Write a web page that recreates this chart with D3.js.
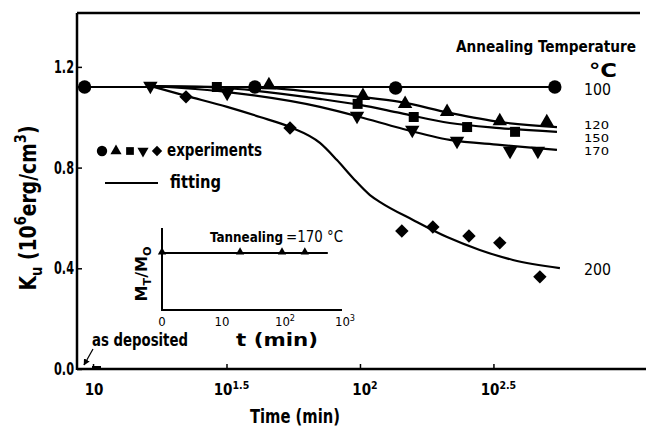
<!DOCTYPE html>
<html><head><meta charset="utf-8">
<script src="https://cdn.jsdelivr.net/npm/d3@7"></script>
<style>body{margin:0;background:#fff} svg{display:block}</style>
</head><body><svg id="c" width="646" height="429"></svg>
<script>
// ---------------- data ----------------
const temperatures = ["100", "120", "150", "170", "200"];
// experiments: [time (min), Ku (10^6 erg/cm^3)]
const exp100 = [[9.3, 1.12], [40.4, 1.12], [136, 1.116], [537, 1.12]];
const exp120 = [[45.6, 1.128], [102.6, 1.085], [147.6, 1.053], [212, 1.021], [334, 0.985], [501, 0.981]];
const exp150 = [[29.1, 1.12], [98, 1.053], [159, 1.001], [252, 0.961], [381, 0.942]];
const exp170 = [[16.4, 1.124], [31.8, 1.097], [97.5, 1.005], [157, 0.950], [231, 0.906], [365, 0.866], [464, 0.866]];
const exp200 = [[22.3, 1.081], [54.7, 0.957], [143.5, 0.548], [187.5, 0.564], [256, 0.528], [334, 0.501], [472, 0.366]];
// fitting curves
const fit100 = [[8.71, 1.12], [547, 1.12]];
const fit120 = [[16.4, 1.124], [46, 1.116], [70.8, 1.097], [100, 1.081], [141, 1.061], [217, 1.017], [334, 0.981], [547, 0.961]];
const fit150 = [[16.4, 1.124], [29.1, 1.118], [70.8, 1.073], [100, 1.049], [141, 1.017], [217, 0.977], [334, 0.957], [547, 0.942]];
const fit170 = [[16.4, 1.124], [31.8, 1.100], [70.8, 1.041], [100, 1.001], [141, 0.957], [217, 0.910], [334, 0.890], [547, 0.870]];
const fit200 = [[16.4, 1.124], [22.3, 1.085], [31.8, 1.041], [42.2, 1.001], [54.7, 0.961], [70.8, 0.898], [82, 0.830],
                [94.1, 0.759], [109, 0.691], [119, 0.663], [158, 0.592], [212, 0.524], [281, 0.473], [374, 0.433], [561, 0.401]];
// axes
const xTicks = [10, Math.pow(10, 1.5), 100, Math.pow(10, 2.5)];
const xTickExp = ["", "1.5", "2", "2.5"];
const yTicks = [0, 0.4, 0.8, 1.2];
const yTickLabels = ["0.0", "0.4", "0.8", "1.2"];
// inset: MT/M0 vs t at T=170 C
const insetPoints = [[1, 1], [20, 1], [100, 1], [240, 1]];
const insetLine = [[1, 1], [580, 1]];
const insetTicks = [1, 10, 100, 1000];
const insetTickExp = ["", "", "2", "3"];
const insetTickBase = ["0", "10", "10", "10"];

// ---------------- drawing ----------------
const FONT = '"Liberation Sans Narrow","DejaVu Sans Condensed","Roboto Condensed","Liberation Sans",Arial,sans-serif';
const svg = d3.select("#c").style("font-family", FONT);

const x = d3.scaleLog().domain([Math.pow(10, 0.94), Math.pow(10, 3.049)]).range([77, 640]);
const y = d3.scaleLinear().domain([0, 1.414]).range([369, 13]);

function rich(g, px, py, parts, o) {
  o = o || {};
  const base = o.size || 16;
  const t = g.append("text").attr("x", px).attr("y", py)
    .attr("font-size", base).attr("font-weight", o.weight || "bold")
    .attr("text-anchor", o.anchor || "start").attr("fill", "#000");
  if (o.transform) t.attr("transform", o.transform);
  if (o.len) t.attr("textLength", o.len).attr("lengthAdjust", "spacingAndGlyphs");
  let pending = 0;
  parts.forEach(p => {
    const s = t.append("tspan").text(p[0]);
    let shift = 0;
    if (p[1] === "sup") { s.attr("font-size", base * 0.7); shift = -base * 0.42; }
    else if (p[1] === "sub") { s.attr("font-size", base * 0.7); shift = base * 0.25; }
    const dy = pending + shift;
    if (dy !== 0) s.attr("dy", dy);
    pending = -shift;
    if (p[2]) s.attr("font-weight", p[2]);
  });
  return t;
}

// axes
const gx = svg.append("g").attr("transform", "translate(0,369)")
  .call(d3.axisBottom(x).tickValues(xTicks).tickSizeInner(-5).tickSizeOuter(0).tickFormat(""));
gx.select(".domain").remove();
gx.selectAll("line").attr("stroke", "#000").attr("stroke-width", 1.5);
const gy = svg.append("g").attr("transform", "translate(77,0)")
  .call(d3.axisLeft(y).tickValues(yTicks).tickSizeInner(-5).tickSizeOuter(0).tickFormat(""));
gy.select(".domain").remove();
gy.selectAll("line").attr("stroke", "#000").attr("stroke-width", 1.5);

svg.append("line").attr("x1", x.range()[0]).attr("x2", 646).attr("y1", y(0)).attr("y2", y(0))
  .attr("stroke", "#000").attr("stroke-width", 2.5);
svg.append("line").attr("x1", x.range()[0]).attr("x2", x.range()[0]).attr("y1", y(0) + 1).attr("y2", y.range()[1])
  .attr("stroke", "#000").attr("stroke-width", 2.5);
svg.append("line").attr("x1", x.range()[0]).attr("x2", x.range()[1]).attr("y1", y.range()[1]).attr("y2", y.range()[1])
  .attr("stroke", "#000").attr("stroke-width", 2.5);

xTicks.forEach((t, i) => {
  const parts = xTickExp[i] ? [["10", ""], [xTickExp[i], "sup"]] : [["10", ""]];
  rich(svg, x(t) + (xTickExp[i] ? 5 : 1), 395, parts, { size: 15, anchor: "middle", weight: "bold" });
});
yTicks.forEach((v, i) => {
  rich(svg, 74, y(v) + 6, [[yTickLabels[i], ""]], { size: 17, anchor: "end", weight: "bold", len: 20 });
});

// axis titles
rich(svg, 295, 423, [["Time  (min)", ""]], { size: 20, anchor: "middle", len: 90 });
rich(svg, 0, 0, [["K", ""], ["u", "sub"], [" (10", ""], ["6", "sup"], ["erg/cm", ""], ["3", "sup"], [")", ""]],
  { size: 23, anchor: "middle", transform: "translate(36,208) rotate(-90)", weight: "bold", len: 165 });

// fit curves
const line = d3.line().x(d => x(d[0])).y(d => y(d[1])).curve(d3.curveMonotoneX);
[fit100, fit120, fit150, fit170, fit200].forEach(f => {
  svg.append("path").attr("d", line(f)).attr("fill", "none").attr("stroke", "#000").attr("stroke-width", 2.2);
});

// markers
const shapes = [d3.symbolCircle, d3.symbolTriangle, d3.symbolSquare, d3.symbolTriangle, d3.symbolSquare];
const sizes = [140, 90, 100, 90, 90];
const rots = [0, 0, 0, 180, 45];
[exp100, exp120, exp150, exp170, exp200].forEach((s, k) => {
  svg.append("g").selectAll("path").data(s).join("path")
    .attr("d", d3.symbol().type(shapes[k]).size(sizes[k]))
    .attr("transform", d => `translate(${x(d[0])},${y(d[1])}) rotate(${rots[k]})`)
    .attr("fill", "#000");
});

// legend
const legX = [102, 116, 130, 143, 157];
legX.forEach((lx, k) => {
  svg.append("path").attr("d", d3.symbol().type(shapes[k]).size(sizes[k] * 0.6))
    .attr("transform", `translate(${lx},151) rotate(${rots[k]})`).attr("fill", "#000");
});
rich(svg, 167, 156, [["experiments", ""]], { size: 18, len: 95 });
svg.append("line").attr("x1", 105).attr("x2", 158).attr("y1", 183).attr("y2", 183).attr("stroke", "#000").attr("stroke-width", 2);
rich(svg, 170, 188, [["fitting", ""]], { size: 18, len: 51 });

// annotations
rich(svg, 456, 52, [["Annealing  Temperature", ""]], { size: 16, anchor: "start", len: 180 });
rich(svg, 603, 77, [["\u00b0C", ""]], { size: 20, anchor: "middle", len: 28 });
const labY = [95, 129, 142, 155, 275];
temperatures.forEach((tp, i) => {
  const mid = i >= 1 && i <= 3;
  rich(svg, 584, labY[i], [[tp, ""]], { size: mid ? 11 : 16, weight: "normal", len: mid ? 25 : 27 });
});

// as deposited
rich(svg, 92, 346, [["as deposited", ""]], { size: 18, len: 96 });
svg.append("defs").append("marker").attr("id", "ah").attr("viewBox", "0 0 10 10").attr("refX", 9).attr("refY", 5)
  .attr("markerWidth", 5).attr("markerHeight", 5).attr("orient", "auto")
  .append("path").attr("d", "M0,0L10,5L0,10z").attr("fill", "#000");
svg.append("line").attr("x1", 93).attr("y1", 349).attr("x2", 84).attr("y2", 365)
  .attr("stroke", "#000").attr("stroke-width", 1.3).attr("marker-end", "url(#ah)");
svg.append("line").attr("x1", 92).attr("x2", 101).attr("y1", 367).attr("y2", 367).attr("stroke", "#000").attr("stroke-width", 2);

// inset
const ix = d3.scaleLog().domain([1, 1000]).range([162, 342]);
const iy = d3.scaleLinear().domain([0, 1.44]).range([310, 228]);
const gi = svg.append("g");
gi.append("line").attr("x1", ix(1)).attr("x2", ix(1)).attr("y1", iy(0)).attr("y2", iy(1.44)).attr("stroke", "#000").attr("stroke-width", 2);
gi.append("line").attr("x1", ix(1) - 1).attr("x2", ix(1000)).attr("y1", iy(0)).attr("y2", iy(0)).attr("stroke", "#000").attr("stroke-width", 2);
gi.append("path").attr("d", d3.line().x(d => ix(d[0])).y(d => iy(d[1]))(insetLine)).attr("stroke", "#000").attr("stroke-width", 2).attr("fill", "none");
gi.selectAll(".ip").data(insetPoints).join("path").attr("class", "ip")
  .attr("d", d3.symbol().type(d3.symbolTriangle).size(30))
  .attr("transform", d => `translate(${ix(d[0])},${iy(d[1]) - 1})`).attr("fill", "#000");
insetTicks.forEach((t, i) => {
  const parts = insetTickExp[i] ? [[insetTickBase[i], ""], [insetTickExp[i], "sup"]] : [[insetTickBase[i], ""]];
  rich(gi, ix(t) + (insetTickExp[i] ? 3 : 0), 326, parts, { size: 13, anchor: "middle", weight: "normal" });
});
rich(gi, 277, 346, [["t  (min)", ""]], { size: 17, anchor: "middle", len: 82 });
rich(gi, 210, 242, [["Tannealing", ""]], { size: 14, len: 73 });
rich(gi, 286, 242, [["=170 \u00b0C", ""]], { size: 15, weight: "normal", len: 57 });
rich(gi, 0, 0, [["M", ""], ["T", "sub"], ["/M", ""], ["O", "sub"]], { size: 16, anchor: "middle", transform: "translate(147,274) rotate(-90)", len: 55 });
</script></body></html>
